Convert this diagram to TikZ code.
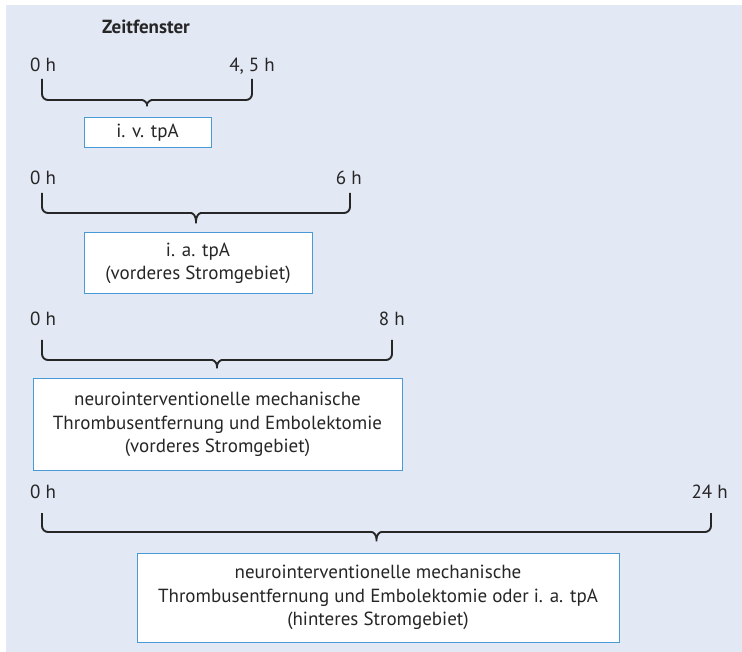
\documentclass[tikz,border=0pt]{standalone}
\usepackage{fontspec}
\setmainfont{PT Sans}
\definecolor{hgblau}{HTML}{E3E8F5}
\definecolor{rahmen}{HTML}{4A9AD8}
\definecolor{schrift}{HTML}{262626}
\newcommand\klammer[5]{% links, rechts, oben, Balken, Spitze
  \pgfmathsetmacro\km{(#1+#2)/2}
  \draw[klammer] (#1,#3) -- (#1,#4) -- (\km-11,#4)
    .. controls (\km-3,#4) and (\km,#4+3) .. (\km,#5)
    .. controls (\km,#4+3) and (\km+3,#4) .. (\km+11,#4)
    -- (#2,#4) -- (#2,#3);}
\begin{document}
\begin{tikzpicture}[x=1pt,y=-1pt,
    every node/.style={text=schrift,font=\fontsize{19}{23.5}\selectfont},
    zeit/.style={inner sep=0pt},
    fenster/.style={draw=rahmen,line width=1pt,fill=white,align=center,inner sep=0pt},
    klammer/.style={draw=schrift,line width=1.9pt,rounded corners=6pt}]
  \useasboundingbox (0,0) rectangle (742,652);
  \fill[hgblau] (6,5) rectangle (742,652);

  \node (zf) at (146,27) {\bfseries Zeitfenster};

  % 4,5 h
  \node[zeit,anchor=base west] (s1) at (30,72) {0 h};
  \node[zeit,anchor=base east] (e1) at (275,72) {4, 5 h};
  \klammer{42}{252}{79}{100}{110}
  \node[fenster,minimum width=127pt,minimum height=30pt] (f1) at (147.5,133) {i. v. tpA};

  % 6 h
  \node[zeit,anchor=base west] (s2) at (30,185) {0 h};
  \node[zeit,anchor=base east] (e2) at (362,185) {6 h};
  \klammer{42}{350}{193}{213}{227}
  \node[fenster,minimum width=228pt,minimum height=61pt] (f2) at (198,263.5)
    {i. a. tpA\\(vorderes Stromgebiet)};

  % 8 h
  \node[zeit,anchor=base west] (s3) at (30,326) {0 h};
  \node[zeit,anchor=base east] (e3) at (405,326) {8 h};
  \klammer{42}{392}{340}{360}{372}
  \node[fenster,minimum width=369pt,minimum height=91pt] (f3) at (217.5,424.5)
    {neurointerventionelle mechanische\\Thrombusentfernung und Embolektomie\\(vorderes Stromgebiet)};

  % 24 h
  \node[zeit,anchor=base west] (s4) at (30,498) {0 h};
  \node[zeit,anchor=base east] (e4) at (728,498) {24 h};
  \klammer{42}{711}{513}{532}{545}
  \node[fenster,minimum width=482pt,minimum height=89pt] (f4) at (378,597.5)
    {neurointerventionelle mechanische\\Thrombusentfernung und Embolektomie oder i. a. tpA\\(hinteres Stromgebiet)};
\end{tikzpicture}
\end{document}
